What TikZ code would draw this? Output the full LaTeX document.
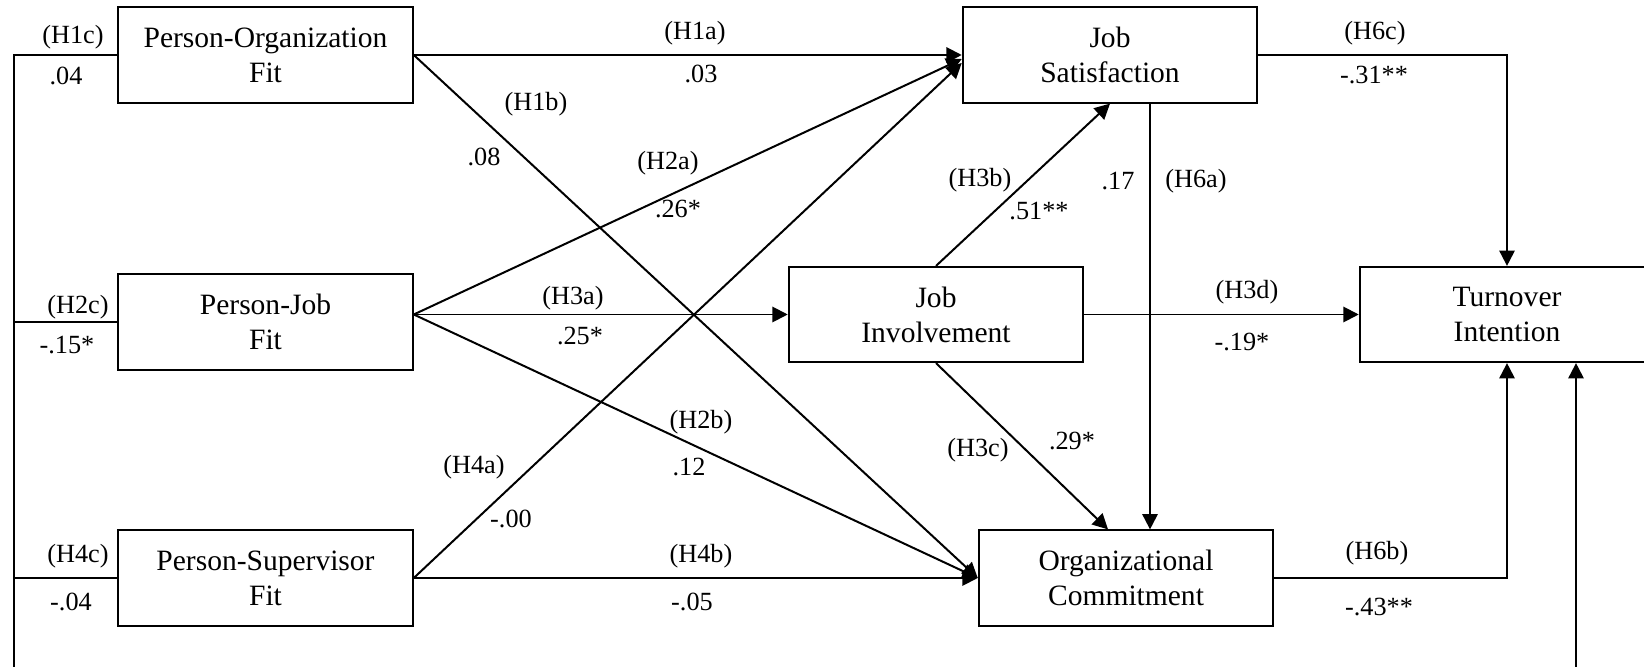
\documentclass[tikz,border=0pt]{standalone}
\usepackage{fontspec}
\setmainfont{Liberation Serif}
\usetikzlibrary{arrows.meta, calc}

\begin{document}
\begin{tikzpicture}[x=0.015cm, y=-0.015cm,
    caja/.style={draw, line width=0.8pt, minimum width=4.42cm, minimum height=1.43cm,
        align=center, inner sep=0pt, font=\fontsize{12.6}{14.9}\selectfont},
    etiq/.style={inner sep=0pt, font=\fontsize{11.2}{13}\selectfont},
    linea/.style={line width=0.85pt},
    flecha/.style={line width=0.85pt, -{Triangle[length=2.3mm, width=2.3mm]}}]

\clip (0,0) rectangle (1644,667);

% cajas
\node[caja] (PO) at (265.5,55) {Person-Organization\\Fit};
\node[caja] (PJ) at (265.5,322) {Person-Job\\Fit};
\node[caja] (PS) at (265.5,578) {Person-Supervisor\\Fit};
\node[caja] (JS) at (1110,55) {Job\\Satisfaction};
\node[caja] (JI) at (936,314.5) {Job\\Involvement};
\node[caja] (OC) at (1126,578) {Organizational\\Commitment};
\node[caja] (TI) at (1507,314.5) {Turnover\\Intention};

% linea izquierda y derecha
\coordinate (izq) at (14,680);
\coordinate (der) at (1576,680);
\draw[linea] (PO.west) -- (PO.west -| izq) -- (izq);
\draw[linea] (PJ.west) -- (PJ.west -| izq);
\draw[linea] (PS.west) -- (PS.west -| izq);
\draw[flecha] (der) -- (der |- TI.south);

% flechas
\coordinate (pj) at (PJ.east |- JI.west);
\draw[flecha] (PO.east) -- (JS.west);
\draw[flecha] (PO.east) -- (OC.west);
\draw[flecha] (pj) -- ([yshift=-0.06cm]JS.west);
\draw[flecha] (pj) -- (JI.west);
\draw[flecha] (pj) -- (OC.west);
\draw[flecha] (PS.east) -- ([yshift=-0.12cm]JS.west);
\draw[flecha] (PS.east) -- (OC.west);
\draw[flecha] (JI.north) -- (JS.south);
\draw[flecha] (JI.south) -- ([xshift=-0.27cm]OC.north);
\draw[flecha] ([xshift=0.6cm]JS.south) -- ([xshift=0.6cm]JS.south |- OC.north);
\draw[flecha] (JI.east) -- (TI.west);
\draw[flecha] (JS.east) -| (TI.north);
\draw[flecha] (OC.east) -| (TI.south);

% etiquetas
\node[etiq] (h1c) at (73,37) {(H1c)};
\node[etiq] (v1c) at (66,76) {.04};
\node[etiq] (h2c) at (78,307) {(H2c)};
\node[etiq] (v2c) at (67,345) {-.15*};
\node[etiq] (h4c) at (78,556) {(H4c)};
\node[etiq] (v4c) at (71,602) {-.04};
\node[etiq] (h1a) at (695,33) {(H1a)};
\node[etiq] (v1a) at (701,74) {.03};
\node[etiq] (h1b) at (536,104) {(H1b)};
\node[etiq] (v1b) at (484,157) {.08};
\node[etiq] (h2a) at (668,163) {(H2a)};
\node[etiq] (v2a) at (678,209) {.26*};
\node[etiq] (h3a) at (573,298) {(H3a)};
\node[etiq] (v3a) at (580,336) {.25*};
\node[etiq] (h2b) at (701,422) {(H2b)};
\node[etiq] (v2b) at (689,467) {.12};
\node[etiq] (h4a) at (474,467) {(H4a)};
\node[etiq] (v4a) at (511,519) {-.00};
\node[etiq] (h4b) at (701,556) {(H4b)};
\node[etiq] (v4b) at (692,602) {-.05};
\node[etiq] (h3b) at (980,180) {(H3b)};
\node[etiq] (v3b) at (1039,211) {.51**};
\node[etiq] (v6a) at (1118,181) {.17};
\node[etiq] (h6a) at (1196,181) {(H6a)};
\node[etiq] (h3c) at (978,450) {(H3c)};
\node[etiq] (v3c) at (1072,441) {.29*};
\node[etiq] (h3d) at (1247,292) {(H3d)};
\node[etiq] (v3d) at (1242,342) {-.19*};
\node[etiq] (h6c) at (1375,33) {(H6c)};
\node[etiq] (v6c) at (1374,75) {-.31**};
\node[etiq] (h6b) at (1377,553) {(H6b)};
\node[etiq] (v6b) at (1379,607) {-.43**};

\end{tikzpicture}
\end{document}
